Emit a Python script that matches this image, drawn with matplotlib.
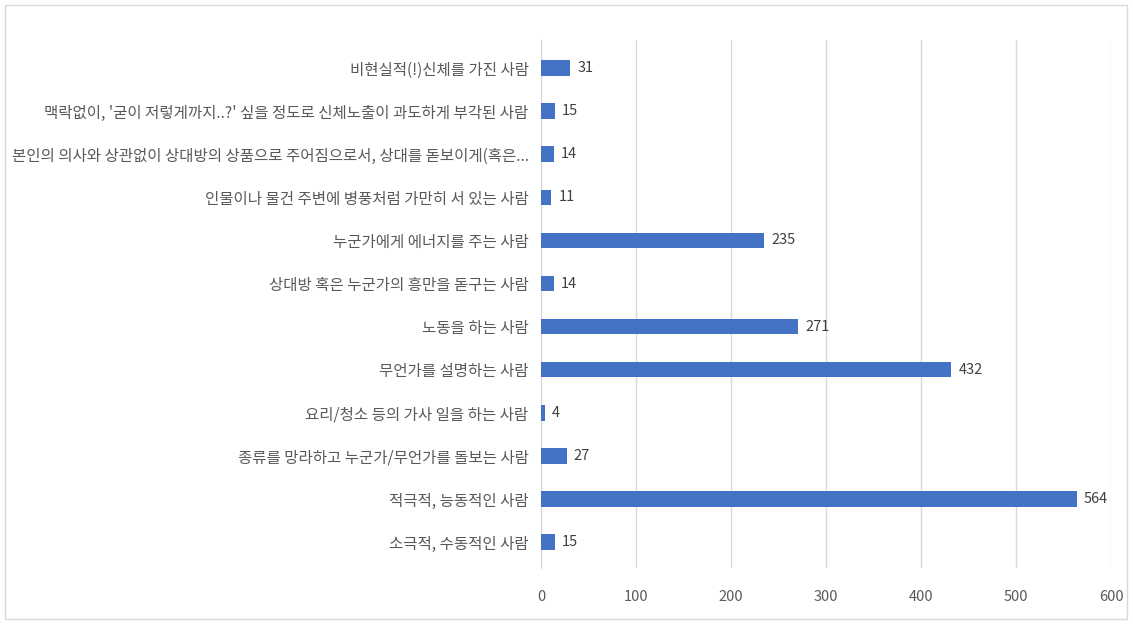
import matplotlib
matplotlib.use("Agg")
import matplotlib.pyplot as plt
from matplotlib.patches import Rectangle

plt.rcParams['font.family'] = ['Noto Sans CJK KR', 'DejaVu Sans']

# categories top to bottom, with response counts
labels = [
    "비현실적(!)신체를 가진 사람",
    "맥락없이, '굳이 저렇게까지..?' 싶을 정도로 신체노출이 과도하게 부각된 사람",
    "본인의 의사와 상관없이 상대방의 상품으로 주어짐으로서, 상대를 돋보이게(혹은...",
    "인물이나 물건 주변에 병풍처럼 가만히 서 있는 사람",
    "누군가에게 에너지를 주는 사람",
    "상대방 혹은 누군가의 흥만을 돋구는 사람",
    "노동을 하는 사람",
    "무언가를 설명하는 사람",
    "요리/청소 등의 가사 일을 하는 사람",
    "종류를 망라하고 누군가/무언가를 돌보는 사람",
    "적극적, 능동적인 사람",
    "소극적, 수동적인 사람",
]
counts = [31, 15, 14, 11, 235, 14, 271, 432, 4, 27, 564, 15]
xticks = [0, 100, 200, 300, 400, 500, 600]

fig = plt.figure(figsize=(11.33, 6.29), dpi=100)
W, H = 1133, 629

# outer chart border
fig.patches.append(Rectangle((5 / W, 1 - 619 / H), 1122 / W, 614 / H,
                             transform=fig.transFigure, fill=False,
                             edgecolor="#d9d9d9", lw=1))

ax = fig.add_axes([541 / W, 1 - 568 / H, 570 / W, 528 / H])
y = list(range(len(labels)))
ax.barh(y, counts, height=0.36, color="#4472C4", zorder=3)

for yi, v in zip(y, counts):
    ax.annotate(str(v), (v, yi), xytext=(5, 0), textcoords="offset points",
                va="center", ha="left", fontsize=10.5, color="#404040")

ax.set_xlim(0, 600)
ax.set_ylim(11.6, -0.65)
ax.set_xticks(xticks)
ax.set_yticks(y)
ax.set_yticklabels(labels, fontsize=11.2, color="#595959")
ax.tick_params(axis="y", length=0, pad=9)
ax.tick_params(axis="x", length=0, pad=16, labelsize=10.5, labelcolor="#595959")
ax.grid(axis="x", color="#d9d9d9", lw=1, zorder=0)

for side in ["top", "right", "bottom"]:
    ax.spines[side].set_visible(False)
ax.spines["left"].set_color("#d9d9d9")

fig.savefig("out.png", dpi=100)
